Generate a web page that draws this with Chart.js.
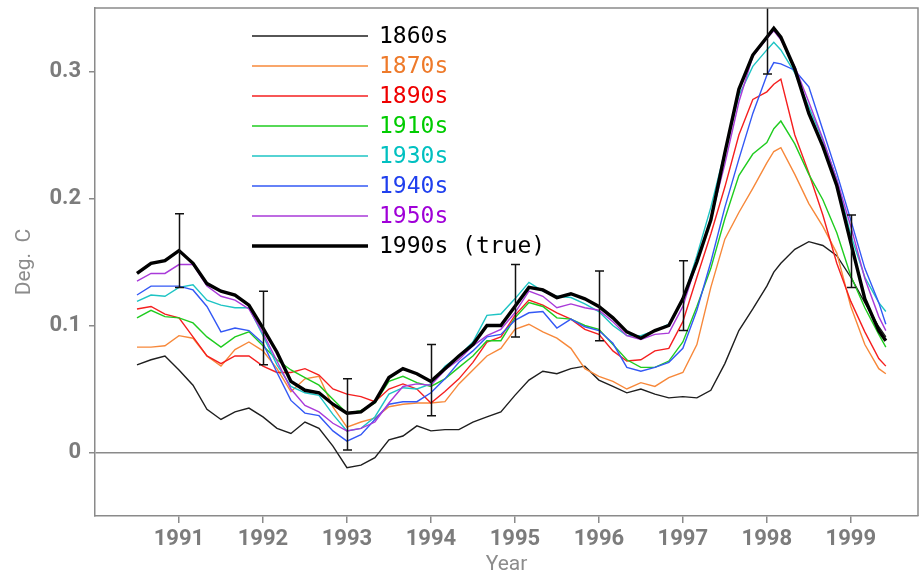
<!DOCTYPE html>
<html>
<head>
<meta charset="utf-8">
<title>Deg. C by Year</title>
<script src="https://cdn.jsdelivr.net/npm/chart.js@4.4.1/dist/chart.umd.min.js"></script>
<style>
  html, body { margin: 0; padding: 0; background: #fff; }
  #wrap { width: 919px; height: 572px; }
</style>
</head>
<body>
<div id="wrap"><canvas id="myChart" width="919" height="572"></canvas></div>
<script>
// x positions (fractional years, two-monthly samples, plus the 1998 peak)
const years = [
  1990.500, 1990.667, 1990.833, 1991.000, 1991.167, 1991.333, 1991.500, 1991.667, 1991.833,
  1992.000, 1992.167, 1992.333, 1992.500, 1992.667, 1992.833,
  1993.000, 1993.167, 1993.333, 1993.500, 1993.667, 1993.833,
  1994.000, 1994.167, 1994.333, 1994.500, 1994.667, 1994.833,
  1995.000, 1995.167, 1995.333, 1995.500, 1995.667, 1995.833,
  1996.000, 1996.167, 1996.333, 1996.500, 1996.667, 1996.833,
  1997.000, 1997.167, 1997.333, 1997.500, 1997.667, 1997.833,
  1998.000, 1998.083, 1998.167, 1998.333, 1998.500, 1998.667, 1998.833,
  1999.000, 1999.167, 1999.333, 1999.417
];

const xTicks = [1991, 1992, 1993, 1994, 1995, 1996, 1997, 1998, 1999];
const yTicks = [0, 0.1, 0.2, 0.3];

const s1860 = [0.069, 0.073, 0.076, 0.065, 0.053, 0.034, 0.026, 0.032, 0.035,
  0.028, 0.019, 0.015, 0.024, 0.019, 0.005,
  -0.012, -0.010, -0.004, 0.010, 0.013, 0.021,
  0.017, 0.018, 0.018, 0.024, 0.028, 0.032,
  0.045, 0.057, 0.064, 0.062, 0.066, 0.068,
  0.057, 0.052, 0.047, 0.050, 0.046, 0.043,
  0.044, 0.043, 0.049, 0.070, 0.096, 0.113,
  0.131, 0.142, 0.149, 0.160, 0.166, 0.163, 0.155,
  0.138, 0.118, 0.099, 0.091];

const s1870 = [0.083, 0.083, 0.084, 0.092, 0.090, 0.076, 0.068, 0.081, 0.087,
  0.080, 0.066, 0.048, 0.058, 0.060, 0.036,
  0.020, 0.024, 0.027, 0.036, 0.038, 0.039,
  0.039, 0.040, 0.054, 0.065, 0.076, 0.082,
  0.097, 0.101, 0.095, 0.090, 0.082, 0.066,
  0.060, 0.056, 0.050, 0.055, 0.052, 0.059,
  0.063, 0.085, 0.130, 0.168, 0.189, 0.208,
  0.228, 0.237, 0.240, 0.219, 0.196, 0.178, 0.157,
  0.115, 0.085, 0.066, 0.062];

const s1890 = [0.113, 0.115, 0.109, 0.106, 0.091, 0.076, 0.070, 0.076, 0.076,
  0.068, 0.063, 0.063, 0.066, 0.061, 0.050,
  0.046, 0.044, 0.040, 0.050, 0.054, 0.050,
  0.039, 0.048, 0.058, 0.071, 0.087, 0.091,
  0.108, 0.120, 0.116, 0.110, 0.105, 0.097,
  0.093, 0.080, 0.072, 0.073, 0.080, 0.082,
  0.103, 0.138, 0.172, 0.209, 0.250, 0.278,
  0.284, 0.290, 0.294, 0.250, 0.220, 0.187, 0.149,
  0.119, 0.095, 0.074, 0.068];

const s1910 = [0.106, 0.112, 0.107, 0.106, 0.102, 0.091, 0.083, 0.091, 0.095,
  0.084, 0.073, 0.065, 0.059, 0.053, 0.042,
  0.031, 0.033, 0.039, 0.056, 0.060, 0.055,
  0.052, 0.058, 0.067, 0.076, 0.088, 0.088,
  0.106, 0.118, 0.115, 0.106, 0.105, 0.100,
  0.097, 0.085, 0.073, 0.067, 0.067, 0.072,
  0.087, 0.115, 0.145, 0.184, 0.218, 0.235,
  0.244, 0.255, 0.261, 0.243, 0.219, 0.199, 0.173,
  0.139, 0.114, 0.093, 0.083];

const s1930 = [0.119, 0.124, 0.123, 0.130, 0.132, 0.120, 0.116, 0.114, 0.114,
  0.092, 0.069, 0.052, 0.047, 0.045, 0.030,
  0.017, 0.019, 0.028, 0.046, 0.051, 0.050,
  0.054, 0.068, 0.076, 0.087, 0.108, 0.109,
  0.121, 0.134, 0.127, 0.123, 0.122, 0.117,
  0.111, 0.100, 0.092, 0.092, 0.096, 0.101,
  0.120, 0.155, 0.193, 0.237, 0.281, 0.304,
  0.317, 0.323, 0.317, 0.299, 0.272, 0.246, 0.215,
  0.171, 0.138, 0.118, 0.111];

const s1940 = [0.124, 0.131, 0.131, 0.131, 0.128, 0.115, 0.095, 0.098, 0.096,
  0.086, 0.063, 0.041, 0.031, 0.029, 0.017,
  0.009, 0.014, 0.026, 0.038, 0.040, 0.040,
  0.047, 0.058, 0.071, 0.080, 0.091, 0.093,
  0.104, 0.110, 0.111, 0.098, 0.105, 0.099,
  0.096, 0.086, 0.067, 0.064, 0.067, 0.071,
  0.082, 0.112, 0.150, 0.193, 0.231, 0.267,
  0.297, 0.307, 0.306, 0.301, 0.288, 0.254, 0.220,
  0.183, 0.145, 0.118, 0.101];

const s1950 = [0.135, 0.141, 0.141, 0.148, 0.148, 0.131, 0.123, 0.120, 0.113,
  0.094, 0.072, 0.050, 0.037, 0.032, 0.023,
  0.017, 0.019, 0.024, 0.039, 0.052, 0.054,
  0.053, 0.065, 0.073, 0.084, 0.092, 0.097,
  0.110, 0.127, 0.123, 0.114, 0.117, 0.114,
  0.112, 0.103, 0.092, 0.089, 0.093, 0.094,
  0.115, 0.150, 0.184, 0.227, 0.276, 0.312,
  0.326, 0.332, 0.325, 0.304, 0.276, 0.247, 0.215,
  0.178, 0.137, 0.107, 0.096];

const s1990 = [0.141, 0.149, 0.151, 0.159, 0.149, 0.133, 0.127, 0.124, 0.116,
  0.098, 0.079, 0.056, 0.049, 0.047, 0.038,
  0.031, 0.032, 0.040, 0.059, 0.066, 0.062,
  0.056, 0.066, 0.076, 0.085, 0.100, 0.100,
  0.115, 0.130, 0.128, 0.122, 0.125, 0.121,
  0.115, 0.106, 0.095, 0.090, 0.096, 0.100,
  0.121, 0.150, 0.183, 0.236, 0.286, 0.313,
  0.327, 0.334, 0.327, 0.302, 0.267, 0.241, 0.210,
  0.165, 0.121, 0.096, 0.088];

// error bars on the "true" curve
const errYears = [1991, 1992, 1993, 1994, 1995, 1996, 1997, 1998, 1999];
const errLow  = [0.130, 0.069, 0.002, 0.029, 0.091, 0.088, 0.096, 0.298, 0.130];
const errHigh = [0.188, 0.127, 0.058, 0.085, 0.148, 0.143, 0.151, 0.356, 0.187];

const seriesLabels = ['1860s', '1870s', '1890s', '1910s', '1930s', '1940s', '1950s', '1990s (true)'];
const seriesValues = [s1860, s1870, s1890, s1910, s1930, s1940, s1950, s1990];
const seriesColors = ['#1e1e1e', '#f7883a', '#f51f1f', '#1fcc1f', '#1ec4c4', '#3358f5', '#a93ad9', '#000000'];
const textColors   = ['#000000', '#ee7a2a', '#ee0000', '#00cc00', '#00c0c0', '#2040ee', '#a000d8', '#000000'];

const axisGray = '#8a8a8a';
const tickGray = '#7c7c7c';
const tickFont = { family: "'Liberation Sans Narrow', Roboto, 'DejaVu Sans', sans-serif", size: 22, weight: 'bold' };

const datasets = seriesLabels.map((label, i) => ({
  label: label,
  data: years.map((x, j) => ({ x: x, y: seriesValues[i][j] })),
  borderColor: seriesColors[i],
  borderWidth: i === 7 ? 3.4 : 1.4,
  pointRadius: 0,
  tension: 0,
  fill: false,
  order: i === 7 ? 0 : 8 - i,
  textColor: textColors[i]
}));

// no automatic label padding, so the plot box sits where the reference has it
function noPad(s) {
  s.paddingTop = 0; s.paddingBottom = 0; s.paddingLeft = 0; s.paddingRight = 0;
}

const extras = {
  id: 'extras',
  afterDatasetsDraw(chart) {
    const ctx = chart.ctx, a = chart.chartArea;
    const xs = chart.scales.x, ys = chart.scales.y;
    ctx.save();
    ctx.beginPath();
    ctx.rect(a.left, a.top, a.right - a.left, a.bottom - a.top);
    ctx.clip();
    ctx.strokeStyle = '#111';
    ctx.lineWidth = 1.5;
    errYears.forEach((yr, i) => {
      const px = Math.round(xs.getPixelForValue(yr)) + 0.5;
      const lo = ys.getPixelForValue(errLow[i]);
      const hi = ys.getPixelForValue(errHigh[i]);
      ctx.beginPath();
      ctx.moveTo(px, lo); ctx.lineTo(px, hi);
      ctx.moveTo(px - 4.5, lo); ctx.lineTo(px + 4.5, lo);
      ctx.moveTo(px - 4.5, hi); ctx.lineTo(px + 4.5, hi);
      ctx.stroke();
    });
    ctx.restore();
  },
  afterDraw(chart) {
    const ctx = chart.ctx, a = chart.chartArea;
    ctx.save();
    // frame top and right
    ctx.strokeStyle = axisGray;
    ctx.lineWidth = 1.5;
    ctx.beginPath();
    ctx.moveTo(a.left, a.top); ctx.lineTo(a.right, a.top); ctx.lineTo(a.right, a.bottom);
    ctx.stroke();

    // legend
    ctx.font = "23px 'DejaVu Sans Mono', monospace";
    ctx.textBaseline = 'middle';
    chart.data.datasets.forEach((ds, i) => {
      const y = 36 + i * 30;
      ctx.strokeStyle = ds.borderColor;
      ctx.lineWidth = i === 7 ? 3.4 : 1.5;
      ctx.beginPath();
      ctx.moveTo(252, y); ctx.lineTo(368, y);
      ctx.stroke();
      ctx.fillStyle = ds.textColor;
      ctx.fillText(ds.label, 379, y + 1);
    });

    // y axis title
    ctx.translate(25, (a.top + a.bottom) / 2);
    ctx.rotate(-Math.PI / 2);
    ctx.textAlign = 'center';
    ctx.textBaseline = 'middle';
    ctx.fillStyle = '#8c8c8c';
    ctx.font = "21px 'Liberation Sans Narrow', Roboto, sans-serif";
    ctx.fillText('Deg.  C', 0, 0);
    ctx.restore();
  }
};

new Chart(document.getElementById('myChart'), {
  type: 'line',
  data: { datasets: datasets },
  options: {
    responsive: false,
    animation: false,
    devicePixelRatio: 1,
    layout: { autoPadding: false, padding: { top: 8, right: 1, left: 0, bottom: 0 } },
    plugins: { legend: { display: false }, tooltip: { enabled: false } },
    scales: {
      x: {
        type: 'linear',
        min: 1990,
        max: 1999.8,
        afterBuildTicks: s => { s.ticks = xTicks.map(v => ({ value: v })); },
        afterFit: s => { s.height = 56; noPad(s); },
        border: { color: axisGray, width: 1.5 },
        grid: { drawOnChartArea: false, tickColor: axisGray, tickLength: 7, lineWidth: 1.5 },
        ticks: { color: tickGray, font: tickFont, padding: 3, maxRotation: 0, callback: v => String(v) },
        title: { display: true, text: 'Year', color: '#8c8c8c', font: { family: "'Liberation Sans Narrow', Roboto, sans-serif", size: 21 }, padding: { top: 0, bottom: -5 } }
      },
      y: {
        type: 'linear',
        min: -0.05,
        max: 0.35,
        afterBuildTicks: s => { s.ticks = yTicks.map(v => ({ value: v })); },
        afterFit: s => { s.width = 95; noPad(s); },
        border: { color: axisGray, width: 1.5 },
        grid: {
          drawOnChartArea: true,
          color: c => (c.tick && c.tick.value === 0 ? axisGray : 'rgba(0,0,0,0)'),
          tickColor: axisGray,
          tickLength: 6,
          lineWidth: 1.5
        },
        ticks: { color: tickGray, font: tickFont, padding: 8, callback: v => (v === 0 ? '0' : v.toFixed(1)) }
      }
    }
  },
  plugins: [extras]
});
</script>
</body>
</html>
